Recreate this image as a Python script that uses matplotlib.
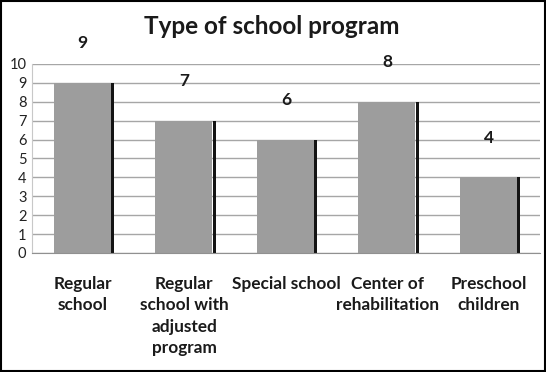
import matplotlib
matplotlib.use("Agg")
import matplotlib.pyplot as plt
import numpy as np
from matplotlib.patches import Rectangle

categories = ["Regular\nschool", "Regular\nschool with\nadjusted\nprogram", "Special school",
              "Center of\nrehabilitation", "Preschool\nchildren"]
values = [9, 7, 6, 8, 4]
yticks = list(range(0, 11))

plt.rcParams['font.family'] = ['Lato', 'DejaVu Sans']

fig = plt.figure(figsize=(5.46, 3.72), dpi=100)
ax = fig.add_axes([0.0586, 0.320, 0.930, 0.508])

x = np.arange(len(categories))
ax.bar(x - 0.005, values, width=0.56, color="#9d9d9d", zorder=2)
ax.bar(x + 0.295, values, width=0.03, color="#141414", zorder=2)

for xi, v in zip(x, values):
    ax.text(xi, v + 2.1, str(v), ha="center", va="center", fontsize=12.5, fontweight="bold", color="#1a1a1a")

ax.set_xlim(-0.5, len(categories) - 0.5)
ax.set_ylim(0, 10)
ax.set_yticks(yticks)
ax.yaxis.grid(True, color="#a6a6a6", lw=1, zorder=0)
ax.set_axisbelow(True)
ax.tick_params(axis="y", length=0, labelsize=10.5, pad=4, labelcolor="#222222")
ax.tick_params(axis="x", length=0)
ax.set_xticks(x)
ax.set_xticklabels([])
for xi, c in zip(x, categories):
    ax.text(xi, -1.2, c, ha="center", va="top", fontsize=12.4, fontweight="bold",
            color="#1a1a1a", linespacing=1.42, transform=ax.transData)

for s in ["top", "right"]:
    ax.spines[s].set_visible(False)
ax.spines["left"].set_color("#c8c8c8")
ax.spines["bottom"].set_color("#909090")

fig.text(0.497, 0.93, "Type of school program", ha="center", va="center",
         fontsize=17.5, fontweight="bold", color="#1a1a1a")

fig.patches.append(Rectangle((0.002, 0.003), 0.996, 0.994, transform=fig.transFigure,
                             fill=False, edgecolor="black", lw=1.5))

fig.savefig("out.png", dpi=100)
